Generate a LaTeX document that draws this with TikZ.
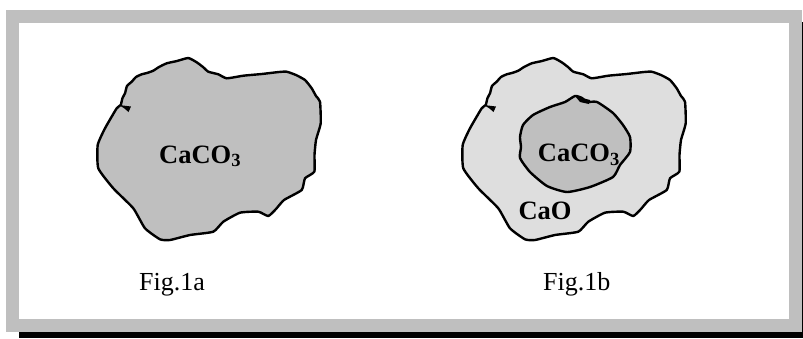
\documentclass[tikz,border=0pt]{standalone}
\usepackage{fontspec}
\setmainfont{Liberation Serif}
\newcommand{\outerblob}{(120.7,105) (122.5,98) (125,93.3) (127,86) (131.7,81.7) (136,77) (141.7,74.3) (147,73) (153.3,70.7) (159,67) (166.7,63.3) (177,61) (188.3,58) (196.7,62.3) (203,67) (208.3,71.7) (218.3,74.3) (226.7,78.3) (243.3,75.7) (261.7,74) (279,72) (286.7,71.7) (296,75) (305,80) (311.7,88.3) (316,96) (320,101.7) (320.7,123.3) (316,140) (314.5,155) (314.3,171.7) (305,178.3) (301.7,190) (284,200) (276,209) (268.3,216) (258.3,211.7) (240,212.7) (223.3,221.7) (213.3,231.7) (190,235) (170,240) (160,239.3) (145,228.3) (133.3,208.3) (113.3,188.3) (98.3,168.3) (97.7,145) (105,128.3) (116.7,108.3)}
\tikzset{
  blob/.style={draw=black,line width=2.4pt,line join=round},
  label/.style={font=\fontsize{26.5}{26.5}\selectfont\bfseries,inner sep=0pt,anchor=base west},
  figlabel/.style={font=\fontsize{26}{26}\selectfont,inner sep=0pt,anchor=base west},
  tick/.style={fill=black,draw=none}
}
\begin{document}
\begin{tikzpicture}[x=1pt,y=-1pt]
\useasboundingbox (0,0) rectangle (803,338);
\fill[white] (0,0) rectangle (803,338);
\fill[black] (19,332) rectangle (803,338);
\fill[black] (802,22) rectangle (803,338);
\fill[black!25] (6,10) rectangle (802,332);
\fill[white] (19,23) rectangle (789,319);
\draw[blob,fill=black!25] plot[smooth cycle,tension=0.3] coordinates {\outerblob};
\fill[tick] (119,105) -- (131,106.5) -- (128.5,112) -- (124.5,108.5) -- cycle;
\node[label] (a) at (159,163) {CaCO\textsubscript{3}};
\node[figlabel] (fa) at (139,290) {Fig.1a};
\begin{scope}[shift={(365,0)}]
\draw[blob,fill=black!13] plot[smooth cycle,tension=0.3] coordinates {\outerblob};
\fill[tick] (119,105) -- (131,106.5) -- (128.5,112) -- (124.5,108.5) -- cycle;
\end{scope}
\draw[blob,fill=black!25] plot[smooth cycle,tension=0.35] coordinates {(575,96) (565,102) (550,107) (533,115) (523,125) (520,137) (521,147) (520,158) (530,172) (547,186) (567,192) (590,187) (613,177) (620,165) (630,152) (630,137) (623,125) (613,113) (597,102) (587,102) (582,98)};
\fill[tick] (575,96) -- (590,100) -- (589,104) -- (580,102) -- cycle;
\node[label] (b) at (537.7,161.7) {CaCO\textsubscript{3}};
\node[label] (c) at (518.3,219.3) {CaO};
\node[figlabel] (fb) at (543,290) {Fig.1b};
\end{tikzpicture}
\end{document}
